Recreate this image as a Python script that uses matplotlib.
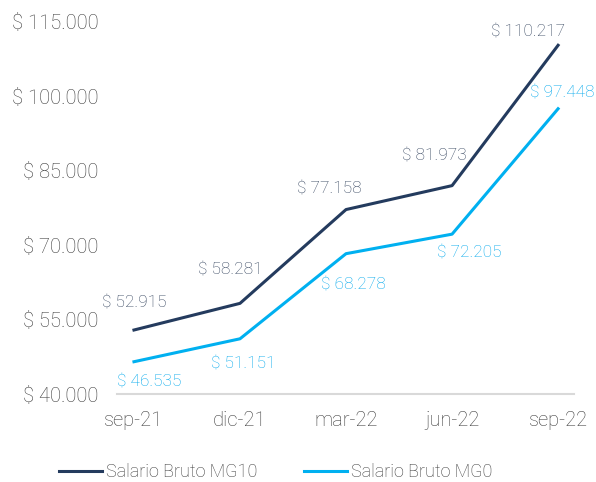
import matplotlib.pyplot as plt
from matplotlib.ticker import FuncFormatter

# datos
periodos = ['sep-21', 'dic-21', 'mar-22', 'jun-22', 'sep-22']
mg10 = [52915, 58281, 77158, 81973, 110217]
mg0 = [46535, 51151, 68278, 72205, 97448]

plt.rcParams['font.family'] = ['Roboto', 'DejaVu Sans']

def pesos(v, pos=None):
    return '$ ' + f'{int(round(v)):,}'.replace(',', '.')

fig = plt.figure(figsize=(5.96, 4.82), dpi=100)
ax = fig.add_axes([117 / 596, 1 - 394.2 / 482, (574 - 117) / 596, (394.2 - 21.5) / 482])

x = list(range(len(periodos)))
c10 = '#243b5e'
c0 = '#00b0f0'
ax.plot(x, mg10, color=c10, lw=2.2, label='Salario Bruto MG10')
ax.plot(x, mg0, color=c0, lw=2.2, label='Salario Bruto MG0')

# desplazamientos de etiquetas en pixeles
off10 = [(0, 27), (-10, 33), (-17, 21), (-18, 30), (-30, 13)]
off0 = [(15, -20), (3, -25), (7, -31), (17, -19), (4, 16)]
for i in x:
    ax.annotate(pesos(mg10[i]), (i, mg10[i]), xytext=off10[i], textcoords='offset pixels',
                ha='center', va='center', fontsize=12.4, color='#34445e', fontweight='light')
    ax.annotate(pesos(mg0[i]), (i, mg0[i]), xytext=off0[i], textcoords='offset pixels',
                ha='center', va='center', fontsize=12.4, color='#00a8ec', fontweight='light')

ax.set_xlim(-0.16, 4.15)
ax.set_ylim(40000, 115000)
ax.set_yticks(range(40000, 115001, 15000))
ax.yaxis.set_major_formatter(FuncFormatter(pesos))
ax.set_xticks(x)
ax.set_xticklabels(periodos)

for s in ['top', 'right', 'left']:
    ax.spines[s].set_visible(False)
ax.spines['bottom'].set_color('#d9d9d9')
ax.spines['bottom'].set_linewidth(1.5)
ax.tick_params(axis='both', length=0, labelsize=14.5, labelcolor='#3c3c3c')
ax.tick_params(axis='y', pad=13.5)
ax.tick_params(axis='x', pad=12)
for t in ax.get_xticklabels() + ax.get_yticklabels():
    t.set_fontweight('light')

leg = fig.legend(loc='center', bbox_to_anchor=(0.462, 0.02), bbox_transform=fig.transFigure,
                 ncol=2, frameon=False, fontsize=13, handlelength=2.4, handletextpad=0.2,
                 columnspacing=2.6, borderpad=0)
for t in leg.get_texts():
    t.set_color('#3c3c3c')
    t.set_fontweight('light')

plt.savefig('out.png', dpi=100)
